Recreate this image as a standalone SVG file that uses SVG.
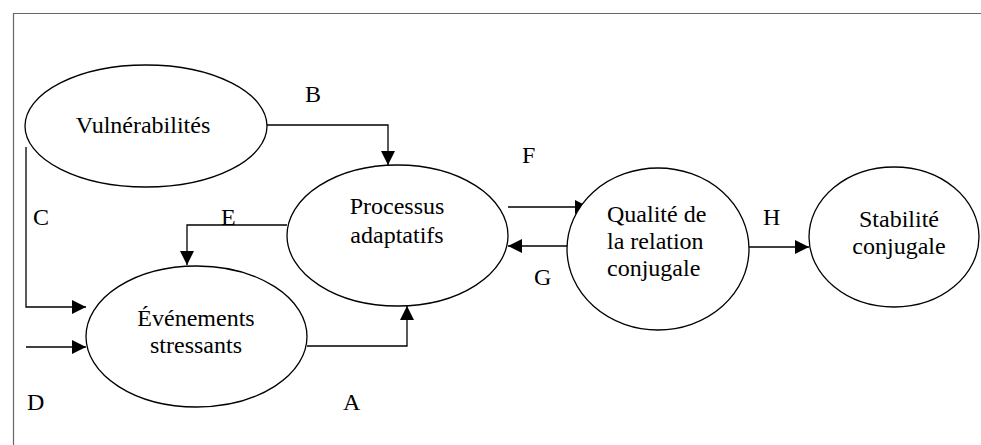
<svg xmlns="http://www.w3.org/2000/svg" width="981" height="445" viewBox="0 0 981 445">
<style>
.node ellipse{fill:#fff;stroke:#000;stroke-width:1.3}
text{font-family:'Liberation Serif','Times New Roman','DejaVu Serif',serif;font-size:24px;fill:#000}
.c{text-anchor:middle}
.conn path{fill:none;stroke:#000;stroke-width:1.3}
</style>
<defs>
<marker id="arr" markerUnits="userSpaceOnUse" markerWidth="14" markerHeight="14" viewBox="0 0 14 14" refX="14" refY="7" orient="auto">
<path d="M0,0 L14,7 L0,14 z" fill="#000"/>
</marker>
</defs>
<rect width="981" height="445" fill="#fff"/>
<path d="M13.5,445 V13.5 H981" fill="none" stroke="#666" stroke-width="1.2"/>

<g class="conn" id="connectors">
<path d="M267,125 H388 V165" marker-end="url(#arr)"/>
<path d="M287,225 H187 V265" marker-end="url(#arr)"/>
<path d="M26,147 V307 H86" marker-end="url(#arr)"/>
<path d="M26,347 H86" marker-end="url(#arr)"/>
<path d="M307,346 H407 V306" marker-end="url(#arr)"/>
<path d="M508,207 H589" marker-end="url(#arr)"/>
<path d="M567,246 H508" marker-end="url(#arr)"/>
<path d="M749,247 H809" marker-end="url(#arr)"/>
</g>

<g id="labels" font-family="Liberation Serif, serif">
<text x="305" y="102">B</text>
<text x="33" y="225">C</text>
<text x="221" y="225">E</text>
<text x="27" y="410">D</text>
<text x="343" y="410">A</text>
<text x="522" y="163">F</text>
<text x="534" y="285">G</text>
<text x="763" y="225">H</text>
</g>

<g class="node" id="vulnerabilites">
<ellipse cx="146" cy="126" rx="121" ry="61"/>
<text class="c" x="143" y="133">Vulnérabilités</text>
</g>

<g class="node" id="processus">
<ellipse cx="397.5" cy="235.5" rx="110.5" ry="70.5"/>
<text class="c" x="397" y="214">Processus</text>
<text class="c" x="397" y="243">adaptatifs</text>
</g>

<g class="node" id="evenements">
<ellipse cx="196.5" cy="336.5" rx="110.5" ry="70.5"/>
<text class="c" x="196" y="326">Événements</text>
<text class="c" x="196" y="353">stressants</text>
</g>

<g class="node" id="qualite">
<ellipse cx="658" cy="249" rx="91" ry="81"/>
<text x="607" y="222">Qualité de</text>
<text x="607" y="249">la relation</text>
<text x="607" y="276">conjugale</text>
</g>

<g class="node" id="stabilite">
<ellipse cx="894" cy="237" rx="85" ry="70"/>
<text class="c" x="899" y="227">Stabilité</text>
<text class="c" x="899" y="254">conjugale</text>
</g>
</svg>
